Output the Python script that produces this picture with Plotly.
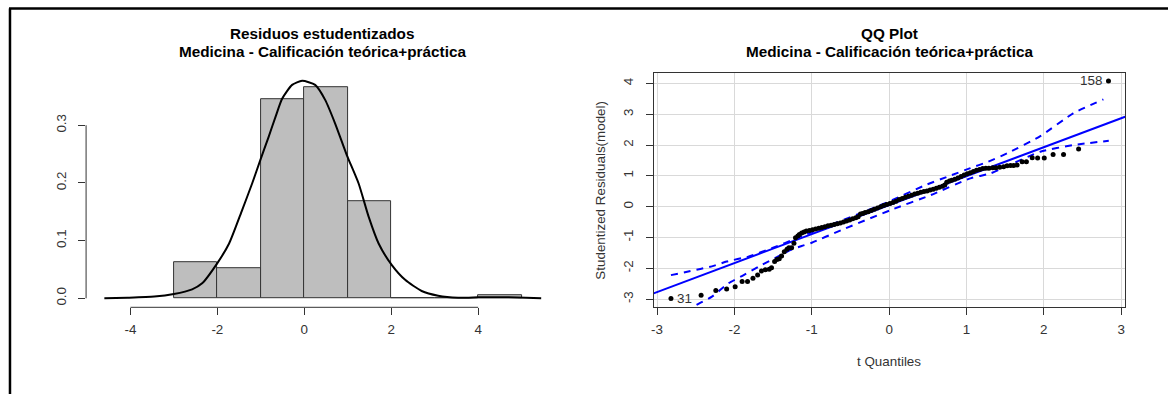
import plotly.graph_objects as go

W, H = 1168, 394
FONT = "Liberation Sans, Arial, sans-serif"
TXT = "#333333"
AX_SIZE = 13.4
TITLE_SIZE = 15.3

# ---------------- Histogram of studentized residuals ----------------
bin_left = [-3, -2, -1, 0, 1, 2, 3, 4]
bin_density = [0.0624, 0.052, 0.345, 0.366, 0.1675, 0.0, 0.0, 0.0047]
bin_width = 1.0

dens_x = [-4.6, -4.07, -3.45, -3.0, -2.58, -2.35, -2.0, -1.73, -1.43, -1.2, -1.01, -0.82,
          -0.66, -0.51, -0.28, -0.05, 0.25, 0.48, 0.71, 0.98, 1.25, 1.48, 1.71, 2.01,
          2.32, 2.7, 3.08, 3.54, 4.0, 4.3, 4.7, 5.1, 5.45]
dens_y = [0.0, 0.001, 0.003, 0.0075, 0.0156, 0.026, 0.061, 0.095, 0.153, 0.199, 0.240, 0.280,
          0.315, 0.346, 0.370, 0.377, 0.370, 0.344, 0.303, 0.248, 0.199, 0.1415, 0.095, 0.058,
          0.032, 0.0127, 0.0045, 0.001, 0.0017, 0.002, 0.0018, 0.0008, 0.0002]

hist_xticks = [-4, -2, 0, 2, 4]
hist_yticks = [0.0, 0.1, 0.2, 0.3]

# ---------------- QQ plot ----------------
qq_x = [-2.82, -2.43, -2.24, -2.10, -1.99, -1.90, -1.83, -1.76, -1.70, -1.65, -1.60, -1.55,
        -1.52, -1.48, -1.45, -1.42, -1.39, -1.355, -1.32, -1.295, -1.26, -1.23, -1.21, -1.18,
        -1.16, -1.13, -1.10, -1.07, -1.03, -0.99, -0.95, -0.91, -0.87, -0.83, -0.79, -0.75,
        -0.71, -0.67, -0.63, -0.59, -0.55, -0.51, -0.47, -0.43, -0.40, -0.37, -0.34, -0.31,
        -0.27, -0.23, -0.19, -0.15, -0.11, -0.07, -0.03, 0.01, 0.05, 0.09, 0.13, 0.17,
        0.21, 0.25, 0.29, 0.33, 0.37, 0.41, 0.45, 0.49, 0.53, 0.57, 0.61, 0.65,
        0.69, 0.72, 0.745, 0.78, 0.81, 0.85, 0.89, 0.93, 0.97, 1.01, 1.05, 1.09,
        1.13, 1.17, 1.21, 1.25, 1.29, 1.34, 1.38, 1.43, 1.48, 1.525, 1.57, 1.61,
        1.655, 1.72, 1.775, 1.85, 1.92, 2.006, 2.12, 2.255, 2.45, 2.836]
qq_y = [-2.98, -2.87, -2.72, -2.67, -2.60, -2.43, -2.43, -2.32, -2.22, -2.09, -2.05, -2.03,
        -1.98, -1.78, -1.71, -1.69, -1.60, -1.46, -1.38, -1.33, -1.33, -1.19, -1.01, -0.95,
        -0.90, -0.85, -0.82, -0.79, -0.77, -0.75, -0.725, -0.70, -0.675, -0.65, -0.62, -0.60,
        -0.575, -0.55, -0.525, -0.50, -0.465, -0.43, -0.395, -0.36, -0.33, -0.24, -0.22, -0.19,
        -0.16, -0.125, -0.085, -0.045, 0.0, 0.035, 0.07, 0.10, 0.14, 0.18, 0.23, 0.27,
        0.31, 0.34, 0.37, 0.41, 0.44, 0.47, 0.49, 0.51, 0.54, 0.57, 0.60, 0.63,
        0.66, 0.70, 0.79, 0.83, 0.86, 0.89, 0.93, 0.98, 1.03, 1.07, 1.10, 1.14,
        1.18, 1.21, 1.24, 1.25, 1.25, 1.26, 1.26, 1.28, 1.30, 1.33, 1.34, 1.34,
        1.35, 1.46, 1.46, 1.59, 1.58, 1.58, 1.69, 1.69, 1.87, 4.08]
id_labels = {0: "31", len(qq_x) - 1: "158"}

line_intercept = 0.05
line_slope = 0.94

env_up_x = [-2.82, -2.61, -2.44, -2.27, -2.10, -1.82, -1.50, -1.20, -0.80, -0.40, 0.0, 0.45,
            0.75, 1.05, 1.27, 1.525, 1.955, 2.38, 2.77]
env_up_y = [-2.22, -2.11, -2.02, -1.92, -1.78, -1.62, -1.33, -1.03, -0.63, -0.24, 0.17, 0.68,
            0.97, 1.25, 1.45, 1.73, 2.29, 3.03, 3.48]
env_lo_x = [-2.62, -2.51, -2.29, -2.08, -1.88, -1.69, -1.475, -1.27, -1.13, -1.0, -0.62, 0.02,
            0.54, 1.05, 1.31, 1.525, 1.955, 2.38, 2.84]
env_lo_y = [-3.45, -3.22, -2.92, -2.49, -2.22, -1.95, -1.67, -1.40, -1.275, -1.17, -0.76, -0.11,
            0.38, 0.92, 1.08, 1.32, 1.785, 2.0, 2.14]

qq_xticks = [-3, -2, -1, 0, 1, 2, 3]
qq_yticks = [-3, -2, -1, 0, 1, 2, 3, 4]

# axis ranges
hx_range = [-5.02, 5.85]
hy_range = [-0.0156, 0.392]
qx_range = [-3.044, 3.051]
qy_range = [-3.245, 4.348]


def px_x(p):
    return p / W


def px_y(p):
    return 1 - p / H


fig = go.Figure()

# histogram bars
fig.add_trace(go.Bar(
    x=[b + bin_width / 2 for b in bin_left], y=bin_density, width=bin_width,
    marker=dict(color="#BEBEBE", line=dict(color="#333333", width=1)),
    xaxis="x", yaxis="y", showlegend=False, hoverinfo="skip"))

# density curve
fig.add_trace(go.Scatter(
    x=dens_x, y=dens_y, mode="lines", line=dict(color="black", width=2, shape="spline", smoothing=0.6),
    xaxis="x", yaxis="y", showlegend=False, hoverinfo="skip"))

# QQ envelope
for ex, ey in ((env_up_x, env_up_y), (env_lo_x, env_lo_y)):
    fig.add_trace(go.Scatter(
        x=ex, y=ey, mode="lines", line=dict(color="#0000FF", width=2, dash="7px,6px", shape="spline", smoothing=0.5),
        xaxis="x2", yaxis="y2", showlegend=False, hoverinfo="skip"))

# reference line
fig.add_trace(go.Scatter(
    x=qx_range, y=[line_intercept + line_slope * v for v in qx_range], mode="lines",
    line=dict(color="#0000FF", width=2), xaxis="x2", yaxis="y2", showlegend=False, hoverinfo="skip"))

# points
fig.add_trace(go.Scatter(
    x=qq_x, y=qq_y, mode="markers", marker=dict(color="black", size=5),
    xaxis="x2", yaxis="y2", showlegend=False))

tickfont = dict(family=FONT, size=AX_SIZE, color=TXT)

fig.update_layout(
    width=W, height=H, margin=dict(l=0, r=0, t=0, b=0),
    paper_bgcolor="white", plot_bgcolor="rgba(0,0,0,0)",
    bargap=0,
    xaxis=dict(domain=[px_x(83.3), px_x(557)], range=hx_range, tickvals=hist_xticks,
               ticktext=[str(v) for v in hist_xticks],
               ticks="outside", ticklen=7, tickcolor="#333333", showline=False, showgrid=False,
               zeroline=False, tickfont=tickfont, ticklabelstandoff=3, fixedrange=True),
    yaxis=dict(domain=[px_y(307.3), px_y(72.2)], range=hy_range, tickvals=hist_yticks,
               ticktext=[f"{v:.1f}" for v in hist_yticks], tickangle=-90,
               ticks="outside", ticklen=7, tickcolor="#333333", showline=False, showgrid=False,
               zeroline=False, tickfont=tickfont, ticklabelstandoff=7, fixedrange=True),
    xaxis2=dict(domain=[px_x(652.3), px_x(1125)], range=qx_range, tickvals=qq_xticks,
                ticktext=[str(v) for v in qq_xticks],
                ticks="outside", ticklen=7, tickcolor="#333333", showline=True, mirror=True,
                linecolor="#333333", linewidth=1, showgrid=True, gridcolor="#D9D9D9",
                zeroline=False, tickfont=tickfont, ticklabelstandoff=3, anchor="y2", fixedrange=True),
    yaxis2=dict(domain=[px_y(306.7), px_y(72.7)], range=qy_range, tickvals=qq_yticks,
                ticktext=[str(v) for v in qq_yticks], tickangle=-90,
                ticks="outside", ticklen=7, tickcolor="#333333", showline=True, mirror=True,
                linecolor="#333333", linewidth=1, showgrid=True, gridcolor="#D9D9D9",
                zeroline=False, tickfont=tickfont, ticklabelstandoff=7, anchor="x2", fixedrange=True),
)

# R-style partial axis lines for the histogram
fig.add_shape(type="line", xref="x", yref="y domain", x0=hist_xticks[0], x1=hist_xticks[-1], y0=0, y1=0,
              line=dict(color="#333333", width=1))
fig.add_shape(type="line", xref="x domain", yref="y", x0=0, x1=0, y0=hist_yticks[0], y1=hist_yticks[-1],
              line=dict(color="#333333", width=1))

# outer frame (top and left)
fig.add_shape(type="line", xref="paper", yref="paper", x0=px_x(6), x1=1, y0=px_y(8.5), y1=px_y(8.5),
              line=dict(color="black", width=2.5))
fig.add_shape(type="line", xref="paper", yref="paper", x0=px_x(7), x1=px_x(7), y0=0, y1=px_y(8.5),
              line=dict(color="black", width=2.5))

title_font = dict(family=FONT, size=TITLE_SIZE, color="black")
for cx, l1 in ((320, "Residuos estudentizados"), (888.6, "QQ Plot")):
    fig.add_annotation(text=f"<b>{l1}</b>", x=px_x(cx), y=px_y(33.5), xref="paper", yref="paper",
                       showarrow=False, font=title_font, xanchor="center", yanchor="middle")
    fig.add_annotation(text="<b>Medicina - Calificación teórica+práctica</b>", x=px_x(cx), y=px_y(51.5),
                       xref="paper", yref="paper", showarrow=False, font=title_font,
                       xanchor="center", yanchor="middle")

fig.add_annotation(text="t Quantiles", x=px_x(888.6), y=px_y(361.5), xref="paper", yref="paper",
                   showarrow=False, font=dict(family=FONT, size=AX_SIZE, color=TXT),
                   xanchor="center", yanchor="middle")
fig.add_annotation(text="Studentized Residuals(model)", x=px_x(599.5), y=px_y(189.7), xref="paper",
                   yref="paper", showarrow=False, textangle=-90,
                   font=dict(family=FONT, size=AX_SIZE, color=TXT), xanchor="center", yanchor="middle")

# point id labels
for idx, lab in id_labels.items():
    left_side = qq_x[idx] > 0
    fig.add_annotation(text=lab, x=qq_x[idx], y=qq_y[idx], xref="x2", yref="y2", showarrow=False,
                       font=dict(family=FONT, size=AX_SIZE, color=TXT),
                       xanchor="right" if left_side else "left", xshift=-4 if left_side else 4,
                       yanchor="middle")

fig.write_html("out.html", config={"displayModeBar": False},
               post_script="document.body.style.margin='0';")
